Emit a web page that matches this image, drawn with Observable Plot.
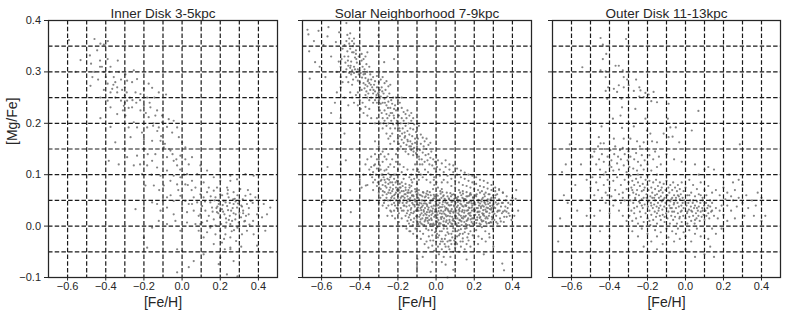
<!DOCTYPE html>
<html><head><meta charset="utf-8">
<script src="https://cdn.jsdelivr.net/npm/d3@7"></script>
<script src="https://cdn.jsdelivr.net/npm/@observablehq/plot@0.6"></script>
<style>
body{margin:0;background:#fff}
#chart{position:relative;width:789px;height:315px;overflow:hidden}
#chart svg{position:absolute;top:0;overflow:visible}
</style>
</head><body><div id="chart"></div>
<script>
const titles = ["Inner Disk 3-5kpc", "Solar Neighborhood 7-9kpc", "Outer Disk 11-13kpc"];
const xLabel = "[Fe/H]";
const yLabel = "[Mg/Fe]";
const xTicks = [-0.6, -0.4, -0.2, 0, 0.2, 0.4];
const yTicks = [-0.1, 0, 0.1, 0.2, 0.3, 0.4];
const xGrid = [-0.6, -0.5, -0.4, -0.3, -0.2, -0.1, 0, 0.1, 0.2, 0.3, 0.4];
const yGrid = [-0.05, 0, 0.05, 0.1, 0.15, 0.2, 0.25, 0.3, 0.35];

// [Fe/H], [Mg/Fe] pairs
const inner = [
[-.593,.362],[-.459,.364],[-.428,.355],[-.389,.36],[-.41,.353],[-.445,.342],[-.532,.323],[-.483,.332],[-.477,.316],[-.43,.322],[-.39,.325],[-.337,.322],[-.558,.30],[-.47,.29],[-.48,.273],[-.43,.31],[-.41,.30],[-.375,.31],[-.358,.29],[-.33,.30],[-.297,.295],[-.35,.28],[-.39,.277],[-.41,.265],[-.366,.267],[-.34,.27],[-.314,.265],[-.288,.283],[-.262,.28],[-.253,.303],[-.236,.286],[-.428,.25],[-.39,.244],[-.375,.231],[-.35,.25],[-.32,.244],[-.30,.254],[-.288,.244],[-.274,.25],[-.305,.234],[-.34,.218],[-.297,.215],[-.375,.26],[-.244,.26],[-.218,.257],[-.20,.267],[-.175,.277],[-.157,.269],[-.145,.25],[-.122,.26],[-.084,.256],[-.183,.25],[-.20,.234],[-.166,.231],[-.131,.225],[-.105,.215],[-.175,.212],[-.14,.215],[-.218,.225],[-.262,.231],[-.253,.202],[-.28,.192],[-.375,.193],[-.428,.21],[-.35,.163],[-.384,.127],[-.332,.12],[-.27,.173],[-.236,.192],[-.21,.182],[-.20,.169],[-.183,.192],[-.152,.195],[-.122,.192],[-.105,.202],[-.07,.208],[-.044,.205],[-.079,.193],[-.052,.182],[-.026,.192],[-.017,.173],[0,.163],[.017,.153],[-.113,.166],[-.157,.166],[-.14,.14],[-.096,.153],[-.061,.147],[-.079,.134],[-.044,.127],[-.009,.137],[-.026,.118],[.017,.13],[.035,.12],[.052,.134],[-.157,.127],[-.183,.118],[-.131,.114],[-.113,.098],[-.079,.108],[-.044,.098],[-.009,.095],[.026,.101],[.079,.101],[.096,.118],[.131,.108],[.166,.095],[.20,.088],[.253,.098],[.183,.075],[-.21,.101],[-.192,.079],[-.148,.079],[-.236,.137],[-.288,.134],[-.253,.118],[-.096,.079],[-.061,.088],[-.026,.081],[.017,.081],[.052,.088],[-.079,.056],[-.044,.049],[-.009,.059],[.017,.049],[.035,.043],[.061,.056],[.079,.046],[.113,.056],[.131,.066],[-.20,.036],[-.157,.046],[-.131,.043],[-.113,.03],[-.079,.036],[-.044,.023],[0,.036],[.026,.027],[.061,.03],[.087,.02],[-.244,.033],[-.122,.01],[-.157,-.003],[-.079,.004],[-.035,.01],[.026,.007],[.07,.004],[.087,-.009],[.105,.007],[-.009,-.009],[-.20,-.022],[-.183,-.042],[-.026,-.045],[0,-.048],[.061,-.068],[.035,-.08],[-.026,-.09],[.113,-.055],[.192,-.074],[.2,-.061],[.253,-.045],[.27,-.068],[.29,-.098],[.235,-.094],
[.096,.023],[.105,.039],[.122,.03],[.14,.02],[.148,.046],[.157,.036],[.166,.013],[.175,.056],[.183,.027],[.192,.043],[.20,.017],[.209,.033],[.218,.049],[.222,.023],[.232,.007],[.236,.039],[.244,.056],[.25,.02],[.257,.03],[.262,.01],[.27,.043],[.276,.053],[.281,.023],[.288,.036],[.29,-.003],[.30,.049],[.309,.017],[.32,.03],[.332,.059],[.34,.043],[.349,.023],[.36,.049],[.372,.01],[.384,.056],[.393,.023],[.40,.036],[.428,.043],[.436,-.009],[.445,.023],[.462,.036],[.419,.017],[.393,-.038],[.375,-.016],[.34,-.009],[.314,-.016],[.283,-.029],[.253,-.022],[.227,-.016],[.20,-.009],[.175,.001],[.148,-.003],[.131,-.012],[.209,-.032],[.253,-.042],[.166,-.035],[.113,-.022],[.096,.004],[.14,.075],[.166,.069],[.20,.062],[.236,.075],[.27,.066],[.305,.072],[.358,.062],[.253,.088],[.288,.091],[.332,.101],[.375,.098],[.192,.049],[.213,.041],[.241,.031],[.265,.035],[.293,.044],[.314,.038],[.279,.013],[.253,.004],[.227,-.003],[.297,.007],[.326,.009],[.353,.003],[.096,.062],[.07,.075],[.113,.085],[.052,.043],[.131,.01],[.175,-.016],
[.215,.028],[.228,.046],[.245,.012],[.268,.052],[.185,.038],[.205,.004],[.3,.026],[.318,.052],[.335,.02],[.15,.058],[.16,.028],[.238,.063],[.272,-.008],[.224,-.045],[.31,-.04],[.345,.07],[.12,.048],
[-.46,.3],[-.44,.285],[-.42,.31],[-.4,.29],[-.38,.3],[-.36,.275],[-.34,.26],[-.32,.285],[-.3,.27],[-.3,.24],[-.31,.225],[-.29,.26],[-.28,.23],[-.26,.245],[-.24,.24],[-.22,.245],[-.2,.25],[-.19,.22],[-.17,.24],[-.15,.2],[-.13,.185],[-.11,.175],[-.09,.16],[-.07,.15],[-.05,.14],[-.03,.13],[-.01,.11],[.01,.1],[.03,.08],[.05,.07],[-.2,.15],[-.18,.14],[-.22,.12],[-.16,.1],[-.12,.07],[-.1,.05],[-.06,.06],[-.02,.07],
[.15,0],[.17,.05],[.19,.025],[.21,.06],[.23,.015],[.25,.045],[.27,.025],[.29,.06],[.31,.04],[.33,.01],[.35,.035],[.37,.045],[.26,-.01],[.22,-.025],[.18,.035],[.3,0],[.24,.07],[.2,.03],[.28,.048],[.32,.025]
];

const solar = [
[-.674,.382],[-.669,.373],[-.616,.38],[-.564,.387],[-.569,.369],[-.665,.34],[-.634,.319],[-.662,.287],[-.525,.358],[-.508,.377],[-.302,.371],[-.36,.338],[-.272,.319],[-.22,.325],[-.59,.352],[-.61,.31],[-.55,.33],[-.64,.36],[-.58,.29],[-.47,.395],
[-.49,.345],[-.48,.352],[-.47,.36],[-.465,.34],[-.46,.33],[-.455,.355],[-.45,.345],[-.445,.32],[-.44,.338],[-.435,.35],[-.43,.31],[-.425,.328],[-.42,.342],[-.415,.318],[-.41,.305],[-.405,.33],[-.4,.315],[-.395,.298],[-.39,.322],[-.385,.31],[-.38,.295],[-.375,.305],[-.37,.288],[-.365,.315],[-.36,.3],[-.48,.33],[-.475,.318],[-.47,.305],[-.46,.312],[-.455,.298],[-.45,.308],[-.445,.295],[-.44,.303],[-.435,.285],[-.43,.298],[-.425,.305],[-.42,.29],[-.415,.3],[-.41,.283],[-.405,.295],[-.4,.28],[-.5,.31],[-.495,.325],[-.485,.3],[-.47,.29],[-.46,.28],[-.44,.275],[-.455,.365],[-.44,.36],[-.43,.355],[-.42,.335],[-.39,.335],[-.38,.325],[-.37,.33],[-.35,.31],[-.345,.295],[-.355,.285],[-.5,.29],[-.49,.28],[-.52,.3],[-.51,.32],[-.465,.372],[-.45,.375],[-.43,.365],
[-.38,.278],[-.375,.268],[-.37,.275],[-.365,.262],[-.36,.272],[-.355,.258],[-.35,.278],[-.345,.265],[-.34,.285],[-.335,.27],[-.33,.258],[-.325,.275],[-.32,.262],[-.315,.25],[-.31,.27],[-.305,.258],[-.3,.245],[-.3,.28],[-.295,.265],[-.29,.252],[-.285,.27],[-.28,.24],[-.275,.258],[-.27,.248],[-.265,.265],[-.26,.235],[-.255,.252],[-.25,.242],[-.245,.258],[-.24,.23],[-.235,.245],[-.23,.238],[-.225,.25],[-.22,.228],[-.33,.29],[-.32,.282],[-.31,.292],[-.3,.298],[-.29,.285],[-.28,.29],[-.27,.278],[-.26,.282],[-.25,.272],[-.24,.275],[-.3,.232],[-.31,.24],[-.32,.245],[-.33,.24],[-.34,.25],[-.29,.238],[-.295,.225],[-.285,.22],[-.27,.225],[-.26,.218],[-.35,.245],[-.36,.25],[-.37,.255],[-.39,.265],[-.4,.27],[-.41,.26],[-.3,.26],[-.3,.252],[-.302,.27],[-.298,.24],
[-.28,.21],[-.275,.2],[-.27,.205],[-.26,.195],[-.255,.21],[-.25,.2],[-.245,.215],[-.24,.19],[-.235,.205],[-.23,.22],[-.225,.198],[-.22,.21],[-.215,.19],[-.21,.225],[-.205,.205],[-.2,.195],[-.195,.215],[-.19,.185],[-.185,.2],[-.18,.21],[-.175,.19],[-.17,.205],[-.165,.182],[-.16,.195],[-.155,.21],[-.15,.185],[-.145,.2],[-.14,.178],[-.135,.19],[-.13,.205],[-.125,.175],[-.12,.188],[-.115,.198],[-.11,.17],[-.105,.183],[-.1,.192],[-.215,.235],[-.2,.228],[-.19,.24],[-.18,.23],[-.17,.222],[-.16,.218],[-.15,.225],[-.14,.215],[-.13,.22],[-.12,.21],[-.2,.245],[-.21,.25],[-.18,.25],[-.23,.18],[-.24,.175],[-.26,.18],[-.28,.19],[-.29,.2],[-.31,.21],[-.32,.2],[-.1,.205],[-.09,.195],
[-.45,.26],[-.44,.25],[-.43,.24],[-.42,.255],[-.41,.235],[-.4,.245],[-.395,.228],[-.385,.24],[-.38,.22],[-.37,.232],[-.36,.215],[-.35,.228],[-.34,.21],[-.48,.25],[-.46,.235],[-.5,.27],[-.52,.26],[-.53,.24],[-.55,.22],[-.5,.21],
[-.2,.17],[-.195,.16],[-.19,.175],[-.185,.155],[-.18,.168],[-.175,.15],[-.17,.162],[-.165,.172],[-.16,.145],[-.155,.158],[-.15,.168],[-.145,.14],[-.14,.155],[-.135,.165],[-.13,.148],[-.125,.16],[-.12,.138],[-.115,.152],[-.11,.162],[-.105,.142],[-.1,.155],[-.095,.17],[-.09,.135],[-.085,.148],[-.08,.16],[-.075,.13],[-.07,.143],[-.065,.155],[-.06,.125],[-.055,.138],[-.05,.15],[-.045,.128],[-.04,.14],[-.035,.12],[-.03,.133],[-.025,.145],[-.02,.118],[-.015,.13],[-.01,.112],[-.005,.125],[0,.138],[.005,.115],[.01,.128],[.02,.11],[.03,.122],[-.25,.17],[-.24,.16],[-.23,.15],[-.22,.165],[-.21,.14],[-.08,.178],[-.07,.172],[-.06,.165],[-.05,.17],[-.04,.158],[-.03,.162],
[.04,.105],[.05,.115],[.06,.098],[.07,.11],[.08,.092],[.09,.105],[.1,.088],[.11,.1],[.12,.085],[.13,.095],[.14,.08],[.15,.092],[.16,.078],[.17,.088],[.18,.075],[.19,.085],[.2,.072],[.21,.082],[.22,.07],[.23,.078],[.24,.068],[.25,.076],[.26,.065],[.27,.073],[.28,.062],[.29,.07],[.3,.06],[.31,.068],[.32,.062],[.33,.07],[.04,.09],[.06,.085],[.08,.078],[.1,.075],[.12,.07],[.14,.068],[.16,.066],[.18,.064],[.02,.098],[0,.105],[-.01,.095],[.03,.085],[.05,.128],[.07,.12],[.09,.118],[.11,.112],[.13,.108],[.15,.104],[.17,.1],[.19,.098],[.21,.095],[.23,.09],[.25,.088],[.27,.084],[.29,.08],[.35,.065],[.37,.058],[.4,.055],
[-.35,.11],[-.345,.1],[-.34,.115],[-.335,.095],[-.33,.105],[-.325,.118],[-.32,.09],[-.315,.1],[-.31,.112],[-.305,.085],[-.3,.098],[-.3,.108],[-.295,.118],[-.29,.088],[-.285,.1],[-.28,.08],[-.275,.095],[-.27,.108],[-.265,.085],[-.26,.075],[-.255,.092],[-.25,.102],[-.245,.07],[-.24,.085],[-.235,.098],[-.23,.068],[-.225,.08],[-.22,.092],[-.215,.062],[-.21,.075],[-.205,.088],[-.2,.058],[-.195,.07],[-.19,.082],[-.185,.055],[-.18,.068],[-.175,.078],[-.17,.05],[-.165,.062],[-.16,.075],[-.155,.045],[-.15,.058],[-.145,.07],[-.14,.052],[-.135,.065],[-.13,.078],[-.125,.085],[-.12,.06],[-.115,.092],[-.11,.072],[-.105,.1],[-.1,.082],[-.095,.11],[-.09,.09],[-.085,.12],[-.08,.1],[-.37,.12],[-.36,.13],[-.34,.135],[-.32,.14],[-.3,.13],[-.28,.125],[-.26,.13],[-.24,.12],[-.22,.115],[-.2,.11],[-.18,.105],[-.16,.1],[-.14,.095],[-.12,.11],[-.28,.145],[-.26,.15],[-.3,.155],[-.32,.165],[-.38,.1],[-.4,.09],[-.39,.075],[-.36,.08],[-.33,.07],[-.3,.065],[-.28,.06],[-.26,.055],[-.24,.05],[-.22,.045],
[-.2,.04],[-.195,.025],[-.19,.05],[-.185,.035],[-.18,.015],[-.175,.045],[-.17,.03],[-.165,.055],[-.16,.02],[-.155,.038],[-.15,.01],[-.15,.048],[-.19,.065],[-.18,.058],[-.17,.068],[-.16,.062],[-.21,.05],[-.22,.03],
[-.148,.03],[-.145,.065],[-.142,.005],[-.14,.04],[-.138,.022],[-.135,.055],[-.132,.012],[-.13,.035],[-.128,.068],[-.125,.045],[-.122,.002],[-.12,.025],[-.118,.058],[-.115,.015],[-.112,.038],[-.11,.05],[-.108,-.005],[-.105,.03],[-.102,.062],[-.1,.02],
[-.098,.042],[-.096,.008],[-.094,.055],[-.092,.03],[-.09,.07],[-.088,.018],[-.086,.045],[-.084,-.01],[-.082,.035],[-.08,.06],[-.078,.005],[-.076,.025],[-.074,.05],[-.072,.015],[-.07,.04],[-.068,-.015],[-.066,.065],[-.064,.028],[-.062,.002],[-.06,.048],[-.058,.035],[-.056,.012],[-.054,.058],[-.052,-.005],[-.05,.022],
[-.048,.042],[-.046,.068],[-.044,.01],[-.042,.032],[-.04,.055],[-.038,-.02],[-.036,.02],[-.034,.045],[-.032,.003],[-.03,.03],[-.028,.06],[-.026,.015],[-.024,.038],[-.022,-.008],[-.02,.05],[-.018,.025],[-.016,.072],[-.014,.005],[-.012,.04],[-.01,.018],[-.008,.058],[-.006,-.012],[-.004,.032],[-.002,.048],[0,.01],[0,.028],
[.002,.062],[.004,.04],[.006,-.002],[.008,.022],[.01,.05],[.012,.012],[.014,.035],[.016,-.018],[.018,.045],[.02,.025],[.022,.068],[.024,.005],[.026,.03],[.028,.055],[.03,-.01],[.032,.018],[.034,.042],[.036,.002],[.038,.028],[.04,.06],[.042,.015],[.044,.038],[.046,-.025],[.048,.05],[.05,.022],
[.052,.008],[.054,.035],[.056,.065],[.058,-.005],[.06,.045],[.062,.02],[.064,.03],[.066,-.015],[.068,.052],[.07,.012],[.072,.04],[.074,.025],[.076,-.028],[.078,.058],[.08,.005],[.082,.033],[.084,.018],[.086,.048],[.088,-.01],[.09,.028],[.092,.062],[.094,.01],[.096,.038],[.098,-.035],[.1,.02],
[.102,.045],[.104,.005],[.106,.03],[.108,.055],[.11,-.02],[.112,.015],[.114,.04],[.116,.025],[.118,-.008],[.12,.05],[.122,.012],[.124,.035],[.126,.065],[.128,-.03],[.13,.02],[.132,.042],[.134,.002],[.136,.028],[.138,.055],[.14,-.015],[.142,.015],[.144,.038],[.146,.048],[.148,.008],[.15,.03],
[.152,-.005],[.154,.052],[.156,.02],[.158,.04],[.16,.01],[.162,.03],[.164,-.022],[.166,.058],[.168,.015],[.17,.045],[.172,.025],[.174,.002],[.176,.035],[.178,.062],[.18,-.01],[.182,.02],[.184,.048],[.186,.008],[.188,.03],[.19,.04],[.192,-.018],[.194,.055],[.196,.015],[.198,.032],[.2,.002],
[.202,.045],[.205,.022],[.208,.06],[.21,-.008],[.212,.035],[.215,.012],[.218,.05],[.22,.028],[.222,-.02],[.225,.04],[.228,.005],[.23,.065],[.232,.018],[.235,.035],[.238,.048],[.24,-.002],[.242,.025],[.245,.055],[.248,.01],[.25,.038],
[.252,.02],[.255,.058],[.258,-.01],[.26,.042],[.262,.028],[.265,.005],[.268,.05],[.27,.015],[.272,.035],[.275,.062],[.278,-.015],[.28,.025],[.282,.045],[.285,.008],[.288,.032],[.29,.055],[.292,.018],[.295,.04],[.298,-.005],[.3,.028],
[.302,.05],[.305,.012],[.31,.035],[.312,.06],[.315,.02],[.32,.042],[.322,.005],[.325,.03],[.33,.052],[.335,.015],[.34,.038],[.345,.025],[.35,.045],[.355,.008],[.36,.03],[.365,.05],[.37,.018],[.375,.035],[.38,.025],[.39,.042],[.395,.012],[.4,.03],[.41,.02],[.35,.065],[.33,.072],[.31,.075],
[-.08,-.025],[-.06,-.035],[-.05,-.03],[-.04,-.042],[-.03,-.028],[-.02,-.038],[-.01,-.048],[0,-.03],[.01,-.04],[.015,-.055],[.02,-.035],[.03,-.045],[.035,-.03],[.04,-.06],[.05,-.04],[.055,-.05],[.06,-.03],[.07,-.045],[.075,-.06],[.08,-.035],[.09,-.05],[.095,-.028],[.1,-.042],[.11,-.035],[.12,-.05],[.13,-.04],[.14,-.03],[.15,-.045],[.16,-.035],[.17,-.028],[.18,-.04],[.2,-.03],[.22,-.035],[.24,-.025],[.26,-.03],[.28,-.022],[.05,-.075],[.1,-.07],[.09,-.085],[.03,-.07],[-.1,-.02],[-.12,-.015],[-.14,-.01],
[-.25,.04],[-.24,.03],[-.235,.055],[-.23,.02],[-.22,.06],[-.215,.04],[-.205,.07],[-.26,.035],[-.27,.05],[-.28,.04],[-.3,.045],[-.25,.065],[-.24,.075],
[-.569,.115],[-.473,.128],[-.447,.027],[-.595,.047],[-.368,.079],[-.098,-.064],[-.028,-.089],[.347,-.073],[.356,-.086],[.417,.053],[-.52,.15],[-.48,.18],[-.56,.2],[-.4,.15],[-.42,.1],[-.45,.07],[-.35,.05],[-.3,.02],[-.07,-.06],[-.02,-.07],[.16,-.065],[.25,-.055],[.3,-.04],[.43,.03],[.42,.07],[-.62,.25],[-.6,.18],[-.5,.12],[.06,-.1],[-.1,-.08],
[-.115,.028],[-.108,.048],[-.101,.011],[-.095,.036],[-.089,.052],[-.083,.022],[-.077,.044],[-.071,.003],[-.065,.031],[-.059,.056],[-.053,.016],[-.047,.039],[-.041,.006],[-.035,.027],[-.029,.049],[-.023,.012],[-.017,.034],[-.011,.054],[-.005,.021],[.001,.043],[.007,.008],[.013,.029],[.019,.052],[.025,.017],[.031,.037],[.037,.058],[.043,.024],[.049,.046],[.055,.011],[.061,.033],[.067,.054],[.073,.019],[.079,.041],[.085,.004],[.091,.026],[.097,.049],[.103,.015],[.109,.037],[.115,.057],[.121,.022],[.127,.044],[.133,.009],[.139,.031],[.145,.053],[.151,.018],[.157,.039],[.163,.002],[.169,.024],[.175,.047],[.181,.013],[.187,.036],[.193,.056],[.199,.021],[.205,.042],[.211,.006],[.217,.027],[.223,.051],[.229,.016],[.235,.038],[.241,.009],[.247,.031],[.253,.047],[.259,.015],[.265,.036],[.271,.052],[.277,.02],[.283,.039],[.289,.007],[.295,.027],[.301,.043],
[-.112,.052],[-.104,.019],[-.097,.064],[-.09,.041],[-.084,.008],[-.078,.031],[-.072,.058],[-.066,.021],[-.06,.009],[-.054,.044],[-.048,.027],[-.042,.061],[-.036,.012],[-.03,.045],[-.024,.022],[-.018,.003],[-.012,.061],[-.006,.028],[0,.052],[.006,.016],[.012,.041],[.018,.006],[.024,.063],[.03,.024],[.036,.047],[.042,.002],[.048,.031],[.054,.019],[.06,.058],[.066,.041],[.072,.008],[.078,.029],[.084,.061],[.09,.014],[.096,.053],[.102,.026],[.108,.002],[.114,.047],[.12,.032],[.126,.011],[.132,.06],[.138,.039],[.144,.019],[.15,.052],[.156,.004],[.162,.045],[.168,.031],[.174,.059],[.18,.026],[.186,.044],[.192,.005],[.198,.05],[.204,.031],[.21,.058],[.216,.017],[.222,.046],[.228,.028],[.234,.003],[.24,.052],[.246,.022],[.252,.062],[.258,.032],[.264,.018],[.27,.048],[.276,.006],[.282,.033],[.288,.05],[.294,.013],[.3,.038],[.306,.024],[.312,.046],
[-.04,-.008],[-.02,-.018],[0,-.004],[.01,-.022],[.02,-.01],[.03,-.025],[.04,-.005],[.05,-.018],[.06,-.012],[.07,-.028],[.08,-.015],[.09,-.004],[.1,-.025],[.11,-.01],[.12,-.018],[.13,-.006],[.14,-.024],[.15,-.012],[.16,-.004],[.17,-.015],[.045,-.035],[.065,-.04],[.085,-.022],[.105,-.032],[.125,-.015],[.025,-.03],[.005,-.015],[-.015,-.028],
[-.31,.078],[-.29,.072],[-.27,.066],[-.25,.082],[-.23,.058],[-.21,.065],[-.19,.048],[-.17,.04],[-.27,.09],[-.23,.085],[-.19,.075],[-.15,.065],[-.33,.085],[-.29,.11],[-.25,.115],[-.21,.1],[-.17,.092],[-.13,.09],
[-.462,.322],[-.448,.312],[-.432,.338],[-.418,.325],[-.402,.302],[-.388,.289],[-.372,.296],[-.358,.282],[-.342,.275],[-.328,.265],[-.312,.255],[-.296,.248],[-.282,.262],[-.268,.24],[-.252,.23],[-.238,.22],[-.222,.215],[-.208,.2],[-.192,.19],[-.178,.18],[-.162,.175],[-.148,.165],[-.132,.155],[-.118,.145],[-.102,.14],[-.088,.13],[-.072,.12],[-.058,.11],[-.042,.105],[-.028,.1],[-.012,.09],[.002,.085],
[-.143,.017],[-.137,.049],[-.131,.026],[-.126,.059],[-.119,.008],[-.113,.041],[-.107,.067],[-.099,.031],[-.093,.004],[-.087,.061],[-.081,.013],[-.075,.037],[-.069,.066],[-.063,.044],[-.057,.024],[-.051,.063],[-.045,.016],[-.039,.036],[-.033,.066],[-.027,.004],[-.021,.029],[-.015,.053],[-.009,.002],[-.003,.039],[.003,.026],[.009,.059],[.015,.004],[.021,.037],[.027,.014],[.033,.066],[.039,.009],[.045,.053],[.051,.034],[.057,.044],[.063,.005],[.069,.028],[.075,.064],[.081,.047],[.087,.011],[.093,.04],[.099,.061],[.105,.019],[.111,.052],[.117,.006],[.123,.029],[.129,.049],[.135,.016],[.141,.063],[.147,.026],[.153,.041],[.159,.058],[.165,.012],[.171,.036],[.177,.021],[.183,.061],[.189,.015],[.195,.044],[.201,.028],[.207,.012],[.213,.062],[.219,.035],[.225,.022],[.231,.044],[.237,.012],[.243,.04],[.249,.024],[.255,.045],[.261,.008],[.267,.028],[.273,.043],[.279,.006],[.285,.052],[.291,.035],[.297,.016],[.303,.036],[.309,.055],[.315,.008],[.321,.028],[.327,.044],[.333,.03],[.339,.009],[.345,.045],[.351,.028],[.357,.018],[.363,.038],[.369,.028],[.378,.045],[.386,.02],
[-.298,.075],[-.292,.055],[-.286,.09],[-.279,.068],[-.273,.045],[-.266,.078],[-.259,.062],[-.252,.05],[-.246,.09],[-.239,.064],[-.232,.042],[-.226,.072],[-.219,.054],[-.212,.085],[-.206,.035],[-.199,.062],[-.193,.045],[-.186,.075],[-.179,.03],[-.173,.058],[-.166,.04],[-.159,.07],[-.153,.025],[-.146,.052],[-.139,.075],[-.133,.032],[-.126,.06],[-.12,.042],[-.28,.1],[-.26,.11],[-.24,.095],[-.22,.1],[-.2,.088],[-.18,.085],[-.16,.082],[-.14,.08],[-.255,.02],[-.235,.028],[-.215,.015],[-.195,.008],[-.175,0],[-.155,-.005],[-.135,-.01],[-.32,.12],[-.31,.13],[-.29,.14],[-.27,.135],[-.25,.14],[-.23,.13],[-.21,.125],[-.19,.12],[-.17,.115],[-.15,.11],[-.13,.1],[-.11,.12],[-.09,.105],[-.07,.095],[-.05,.09],[-.03,.085],[-.01,.08],[.01,.075],[.03,.072]
];

const outer = [
[-.447,.366],[-.313,.364],[-.435,.353],[-.417,.335],[-.435,.325],[-.543,.309],[-.368,.312],[-.351,.312],[-.447,.303],[-.42,.301],[-.33,.303],[-.42,.29],[-.325,.29],[-.307,.285],[-.26,.285],[-.407,.27],[-.42,.263],[-.377,.267],[-.351,.274],[-.325,.27],[-.299,.274],[-.272,.263],[-.243,.27],[-.237,.264],[-.211,.259],[-.194,.256],[-.168,.261],[-.22,.251],[-.243,.252],[-.36,.261],[-.412,.248],[-.337,.248],[-.18,.243],[-.15,.241],[-.264,.228],[-.334,.231],[-.089,.238],[.068,.224],[-.342,.215],[-.382,.209],[-.211,.209],[-.093,.209],[-.508,.2],[-.442,.194],[-.334,.191],[-.272,.194],[-.203,.186],[-.185,.18],[-.08,.192],[-.051,.192],[.033,.186],[-.456,.173],[-.447,.161],[-.43,.161],[-.377,.17],[-.325,.17],[-.29,.17],[-.255,.165],[-.22,.163],[-.176,.165],[-.15,.163],[-.115,.18],[-.089,.173],[-.068,.174],[-.033,.163],[-.609,.159],[.286,.159],
[-.5,.15],[-.49,.135],[-.48,.145],[-.47,.12],[-.46,.155],[-.455,.13],[-.45,.11],[-.44,.14],[-.43,.125],[-.425,.15],[-.42,.105],[-.41,.135],[-.4,.118],[-.395,.148],[-.39,.128],[-.38,.108],[-.375,.14],[-.37,.155],[-.36,.122],[-.355,.135],[-.35,.11],[-.345,.148],[-.34,.13],[-.33,.152],[-.325,.118],[-.32,.14],[-.31,.105],[-.305,.128],[-.3,.145],[-.295,.115],[-.29,.135],[-.28,.15],[-.275,.112],[-.27,.13],[-.26,.142],[-.255,.108],[-.25,.125],[-.24,.155],[-.235,.118],[-.23,.138],[-.22,.11],[-.215,.128],[-.21,.15],[-.2,.12],[-.19,.138],[-.18,.108],[-.17,.13],[-.16,.145],[-.15,.115],[-.14,.135],[-.13,.12],[-.1,.14],[-.06,.13],[-.02,.125],[.05,.12],[.1,.11],[.12,.115],[.15,.11],[.07,.1],
[-.52,.09],[-.5,.075],[-.49,.095],[-.48,.06],[-.47,.085],[-.46,.07],[-.45,.095],[-.44,.055],[-.43,.08],[-.42,.065],[-.41,.09],[-.4,.075],[-.39,.058],[-.38,.088],[-.37,.07],[-.36,.095],[-.35,.062],[-.34,.08],[-.33,.055],[-.32,.09],[-.31,.072],[-.3,.085],[-.295,.06],[-.29,.098],[-.285,.075],[-.28,.088],[-.275,.065],[-.27,.08],[-.265,.052],[-.26,.092],[-.255,.07],[-.25,.085],[-.245,.06],[-.24,.078],[-.235,.095],[-.23,.068],[-.225,.082],[-.22,.055],[-.215,.075],[-.21,.09],[-.205,.062],[-.2,.08],[-.195,.07],[-.19,.088],[-.185,.058],[-.18,.075],[-.175,.065],[-.17,.085],[-.165,.055],[-.16,.072],[-.155,.09],[-.15,.062],[-.145,.078],[-.14,.068],[-.135,.085],[-.13,.058],[-.125,.075],[-.12,.065],[-.115,.082],[-.11,.055],[-.105,.07],[-.1,.088],[-.095,.06],[-.09,.075],[-.085,.065],[-.08,.08],[-.075,.052],[-.07,.07],[-.065,.085],[-.06,.06],[-.055,.075],[-.05,.055],[-.045,.068],[-.04,.08],[-.035,.058],[-.03,.072],[-.025,.062],[-.02,.085],[-.015,.055],[-.01,.068],[0,.075],[.01,.06],[.02,.09],[.03,.065],[.04,.08],[.05,.058],[.06,.072],[.07,.062],[.08,.085],[.09,.055],[.1,.07],[.11,.06],[.12,.078],[.14,.065],[.16,.07],[.18,.06],[.2,.075],[.22,.065],[.24,.058],[.26,.07],[-.3,.1],[-.25,.1],[-.2,.098],[-.15,.1],[-.1,.1],
[-.3,.04],[-.295,.02],[-.29,.05],[-.285,.03],[-.28,.01],[-.275,.045],[-.27,.025],[-.265,.055],[-.26,.015],[-.255,.038],[-.25,.005],[-.245,.048],[-.24,.028],[-.235,.018],[-.23,.052],[-.225,.035],[-.22,.008],[-.215,.042],[-.21,.025],[-.205,.055],[-.2,.015],[-.198,.038],[-.195,.048],[-.19,.03],[-.185,.002],[-.182,.045],[-.18,.022],[-.175,.055],[-.172,.035],[-.17,.012],[-.165,.042],[-.162,.028],[-.16,.05],[-.155,.018],[-.152,.038],[-.15,.005],[-.145,.045],[-.142,.03],[-.14,.055],[-.135,.02],[-.132,.04],[-.13,.012],[-.125,.048],[-.122,.032],[-.12,.022],[-.115,.052],[-.112,.038],[-.11,.008],[-.105,.045],[-.102,.025],[-.1,.035],[-.095,.015],[-.092,.05],[-.09,.028],[-.085,.04],[-.082,.005],[-.08,.048],[-.075,.02],[-.072,.035],[-.07,.055],[-.065,.012],[-.062,.042],[-.06,.028],[-.055,.018],[-.052,.05],[-.05,.035],[-.045,.005],[-.042,.045],[-.04,.025],[-.035,.038],[-.032,.015],[-.03,.052],[-.025,.028],[-.022,.04],[-.02,.008],[-.015,.045],[-.012,.02],[-.01,.035],[-.005,.05],[0,.015],[.005,.04],[.008,.025],[.01,.005],[.015,.045],[.018,.032],[.02,.018],[.025,.05],[.028,.038],[.03,.01],[.035,.028],[.038,.045],[.04,.02],[.045,.035],[.048,.005],[.05,.04],[.055,.025],[.058,.015],[.06,.048],[.065,.03],[.068,.02],[.07,.038],[.075,.01],[.078,.045],[.08,.028],[.085,.018],[.088,.035],[.09,.05],[.095,.022],[.098,.04],[.1,.012],[.105,.03],[.108,.045],[.11,.02],[.115,.035],[.12,.025],[.125,.015],[.13,.038],[.135,.028],[.14,.045],[.15,.02],[.16,.035],[.17,.015],[.18,.03],[.19,.04],[.2,.022],[-.35,.03],[-.34,.045],[-.33,.02],[-.32,.05],[-.31,.01],[-.38,.04],[-.4,.025],[-.42,.045],[-.45,.03],
[-.28,-.01],[-.25,-.02],[-.23,-.005],[-.2,-.015],[-.18,-.03],[-.16,-.008],[-.15,-.02],[-.13,-.012],[-.12,-.035],[-.1,-.005],[-.09,-.022],[-.07,-.01],[-.06,-.03],[-.05,-.015],[-.04,-.005],[-.03,-.025],[-.01,-.012],[0,-.02],[.02,-.008],[.03,-.03],[.05,-.015],[.06,-.005],[.08,-.02],[.1,-.01],[.12,-.025],[.14,-.005],[.16,-.015],[-.22,-.04],[-.15,-.045],[-.08,-.05],[0,-.045],[.05,-.06],[.1,-.055],[.13,-.04],[.15,-.06],[-.2,-.05],
[.22,.04],[.24,.03],[.25,.05],[.27,.038],[.28,.055],[.3,.045],[.32,.06],[.33,.035],[.35,.05],[.37,.04],[.38,.065],[.4,.055],[.25,.085],[.28,.09],[.3,.08],[.23,.1],[.21,.052],[.26,.015],[.22,.01],[.42,.02],[.36,.02],[.31,.02],[.19,-.005],[.4,.01],
[-.66,.015],[-.63,0],[-.67,-.03],[-.64,.06],[-.62,.045],[-.6,.1],[-.58,.08],[-.57,.03],[-.55,.05],[-.54,0],[-.52,.02],[-.5,.035],[-.6,-.01],[-.65,.105],[-.63,.12],[-.5,0],[-.48,.02],[-.55,.12],[-.58,.15],[-.45,-.01],[-.65,-.05],[-.4,-.02],
[-.28,.07],[-.26,.062],[-.24,.045],[-.22,.07],[-.2,.05],[-.18,.04],[-.16,.06],[-.14,.035],[-.12,.05],[-.1,.06],[-.08,.035],[-.06,.045],[-.04,.06],[-.02,.03],[0,.045],[.02,.06],[.04,.05],[.06,.035],[.08,.06],[.1,.045],[.12,.04],[.14,.03],[-.19,.01],[-.15,.025],[-.11,.018],[-.07,.028],[-.03,.018],[.01,.028],[.05,.012],[.09,.03],[.13,.05],[.03,.03],[-.13,.07],[-.23,.04],[-.27,.035],[-.33,.065],[-.37,.05],[-.41,.06],[-.43,.1],[-.39,.115]
];

const panels = [inner, solar, outer];
const layout = [
  {left: 0, width: 281, ml: 48, mr: 4},
  {left: 281, width: 254, ml: 21, mr: 4},
  {left: 535, width: 254, ml: 17, mr: 9}
];
const fmt = d3.format(".1f");
const ink = "#262626";

panels.forEach((data, i) => {
  const L = layout[i];
  const marks = [
    Plot.dot(data, {x: d => d[0], y: d => d[1], r: 1.1, fill: "#6f6f6f", fillOpacity: 0.85}),
    Plot.ruleX(xGrid, {stroke: "#1a1a1a", strokeWidth: 1.2, strokeDasharray: "4.5,2.2"}),
    Plot.ruleY(yGrid, {stroke: "#1a1a1a", strokeWidth: 1.2, strokeDasharray: "4.5,2.2"}),
    Plot.frame({stroke: ink, strokeWidth: 1.25}),
    Plot.axisX({ticks: xTicks, tickFormat: fmt, tickSize: 3.5, tickPadding: 1.5, label: null, stroke: ink, fill: ink, fontSize: 11}),
    Plot.axisY({ticks: yTicks, tickFormat: i === 0 ? fmt : () => "", tickSize: 4, tickPadding: 3.5, label: null, stroke: ink, fill: ink, fontSize: 11}),
    Plot.text([titles[i]], {frameAnchor: "top", lineAnchor: "middle", dy: -7, fontSize: 13.5, fill: ink}),
    Plot.text([xLabel], {frameAnchor: "bottom", lineAnchor: "middle", dy: 25, fontSize: 14, fill: ink})
  ];
  if (i === 0) marks.push(Plot.text([yLabel], {frameAnchor: "left", lineAnchor: "middle", dx: -36, dy: -4, rotate: -90, fontSize: 14, fill: ink}));
  const svg = Plot.plot({
    width: L.width, height: 315,
    marginLeft: L.ml, marginRight: L.mr, marginTop: 20, marginBottom: 38,
    x: {domain: [-0.7, 0.5]},
    y: {domain: [-0.1, 0.4]},
    style: {fontFamily: "'Liberation Sans', Arial, sans-serif", fontSize: "11px", color: ink, background: "transparent", overflow: "visible"},
    marks
  });
  svg.style.left = L.left + "px";
  document.getElementById("chart").append(svg);
});
</script>
</body></html>
